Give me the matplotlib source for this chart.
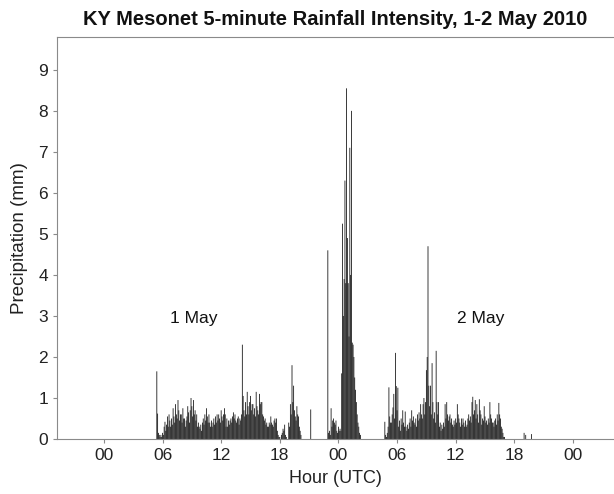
import numpy as np
import matplotlib
matplotlib.use("Agg")
import matplotlib.pyplot as plt

plt.rcParams['font.family'] = ['Liberation Sans', 'DejaVu Sans']

# 5-minute rainfall (mm), each block starts at the given hour (UTC hours since 00 UTC 1 May)
may1_day_start = 5 + 25/60.
may1_day_mm = [
    1.65, 0.62, 0.15, 0.1, 0.05, 0.1, 0.05, 0.15, 0.1, 0.3, 0.42, 0.2, 0.35,
    0.55, 0.3, 0.6, 0.45, 0.3, 0.5, 0.35, 0.75, 0.55, 0.4, 0.85, 0.6, 0.5,
    0.95, 0.7, 0.45, 0.6, 0.6, 0.4, 0.75, 0.5, 0.5, 0.3, 0.45, 0.55,
    0.8, 0.65, 0.4, 0.7, 1.0, 0.8, 0.55, 0.95, 0.6, 0.7, 0.45, 0.6,
    0.3, 0.4, 0.3, 0.25, 0.35, 0.2, 0.4, 0.5, 0.35, 0.6, 0.45,
    0.75, 0.55, 0.4, 0.6, 0.4, 0.3, 0.45, 0.3, 0.4, 0.5, 0.35,
    0.55, 0.4, 0.6, 0.45, 0.6, 0.5, 0.4, 0.7, 0.55, 0.45, 0.6,
    0.75, 0.6, 0.3, 0.5, 0.3, 0.45, 0.35, 0.45, 0.5, 0.4, 0.55,
    0.65, 0.5, 0.6, 0.45, 0.4, 0.5, 0.55, 0.35, 0.5, 0.45, 0.6,
    2.3, 1.05, 0.7, 0.55, 0.9, 0.6, 1.15, 0.8, 0.6, 0.9, 1.05, 0.7, 0.85,
    0.85, 0.6, 0.75, 0.55, 1.15, 0.8, 0.7, 0.6, 1.1, 0.85, 0.9,
    0.9, 0.6, 0.55, 0.45, 0.5, 0.35, 0.4, 0.3, 0.3, 0.4, 0.35,
    0.55, 0.4, 0.35, 0.3, 0.45, 0.5, 0.4, 0.5, 0.2, 0.1, 0.05,
    0.05, 0.0, 0.1, 0.15, 0.25, 0.2, 0.35, 0.1, 0.05,
]

may1_eve_start = 18 + 55/60.
may1_eve_mm = [0.4, 0.3, 0.85, 0.6, 1.8, 0.9, 1.3, 0.7, 0.55, 0.45, 0.8, 0.6,
               0.55, 0.3, 0.2, 0.1]

may1_late_start = 21 + 10/60.
may1_late_mm = [0.72]

storm_start = 22 + 55/60.
storm_mm = [
    4.6, 0.15, 0.2, 0.1, 0.75, 0.3, 0.45, 0.5, 0.4, 0.35, 0.45, 0.2, 0.15,
    0.3, 0.2, 0.25, 0.2,
    1.6, 5.25, 3.0, 3.9, 6.3, 3.8, 8.55, 4.9, 3.8, 2.5, 7.1, 4.0, 8.0,
    2.35, 2.3, 2.0, 1.5, 1.2, 0.9, 0.6, 0.4, 0.3, 0.15, 0.1,
]

may2_day_start = 28 + 45/60.
may2_day_mm = [
    0.42, 0.1, 0.05, 0.15, 0.3, 1.26, 0.55, 0.4, 0.4, 0.6, 0.77,
    1.1, 0.5, 2.1, 1.29, 0.7, 1.25, 0.3, 0.45, 0.2, 0.5, 0.35,
    0.7, 0.4, 0.3, 0.67, 0.3, 0.2, 0.35, 0.25, 0.4, 0.5, 0.3,
    0.7, 0.45, 0.55, 0.4, 0.35, 0.5, 0.3, 0.6, 0.45, 0.65, 0.5,
    0.85, 0.6, 0.5, 0.85, 1.0, 0.6, 0.9, 1.68, 2.0, 4.7, 1.3, 0.8,
    1.3, 0.6, 1.85, 0.9, 0.5, 0.65, 0.4, 2.15, 0.9, 0.6, 0.9,
    0.3, 0.4, 0.2, 0.35, 0.25, 0.4, 0.3, 0.85, 0.5, 0.9, 0.6,
    0.45, 0.55, 0.6, 0.4, 0.5, 0.35, 0.3, 0.45, 0.35, 0.5, 0.4,
    0.85, 0.6, 0.5, 0.4, 0.3, 0.5, 0.35, 0.5, 0.4, 0.3, 0.45,
    0.3, 0.35, 0.5, 0.6, 0.45, 0.55, 0.4, 0.9, 1.03, 0.6, 0.7,
    0.95, 0.5, 0.85, 0.6, 0.4, 0.97, 0.7, 0.6, 0.35, 0.5, 0.45,
    0.8, 0.55, 0.4, 0.45, 0.35, 0.5, 0.4, 0.9, 0.6, 0.5, 0.4,
    0.4, 0.3, 0.45, 0.5, 0.35, 0.6, 0.45, 0.88, 0.6, 0.5, 0.3,
    0.25, 0.15, 0.05, 0.05,
]

may2_eve_hours = [43.0, 43 + 10/60., 43 + 45/60.]
may2_eve_mm = [0.15, 0.1, 0.12]

tick_hours = [0, 6, 12, 18, 24, 30, 36, 42, 48]
tick_labels = ['00', '06', '12', '18', '00', '06', '12', '18', '00']

step = 5 / 60.
times = []
vals = []
for start, block in [(may1_day_start, may1_day_mm), (may1_eve_start, may1_eve_mm),
                     (may1_late_start, may1_late_mm), (storm_start, storm_mm),
                     (may2_day_start, may2_day_mm)]:
    times += [start + i * step for i in range(len(block))]
    vals += block
times += may2_eve_hours
vals += may2_eve_mm

fig = plt.figure(figsize=(6.14, 4.94), dpi=100)
ax = fig.add_axes([0.0928, 0.1113, 0.9072, 0.8137])

ax.bar(times, vals, width=step * 0.97, color='#0d0d0d', linewidth=0, snap=False)

ax.set_xlim(-4.8, 52.2)
ax.set_ylim(0, 9.8)
ax.set_xticks(tick_hours)
ax.set_xticklabels(tick_labels)
ax.set_yticks(range(10))

for s in ['left', 'bottom', 'top']:
    ax.spines[s].set_color('#8a8a8a')
ax.spines['right'].set_visible(False)
ax.tick_params(axis='both', colors='#8a8a8a', labelcolor='#222222',
               labelsize=12.5, length=3, width=0.8)

ax.set_xlabel('Hour (UTC)', fontsize=13, color='#222222', labelpad=5)
ax.set_ylabel('Precipitation (mm)', fontsize=13.5, color='#222222', labelpad=7)
ax.set_title('KY Mesonet 5-minute Rainfall Intensity, 1-2 May 2010',
             fontsize=14.5, fontweight='bold', color='#111111', pad=9)

ax.text(9.2, 2.95, '1 May', fontsize=12.5, ha='center', va='center', color='#111111')
ax.text(38.6, 2.95, '2 May', fontsize=12.5, ha='center', va='center', color='#111111')

fig.savefig('out.png', dpi=100)
